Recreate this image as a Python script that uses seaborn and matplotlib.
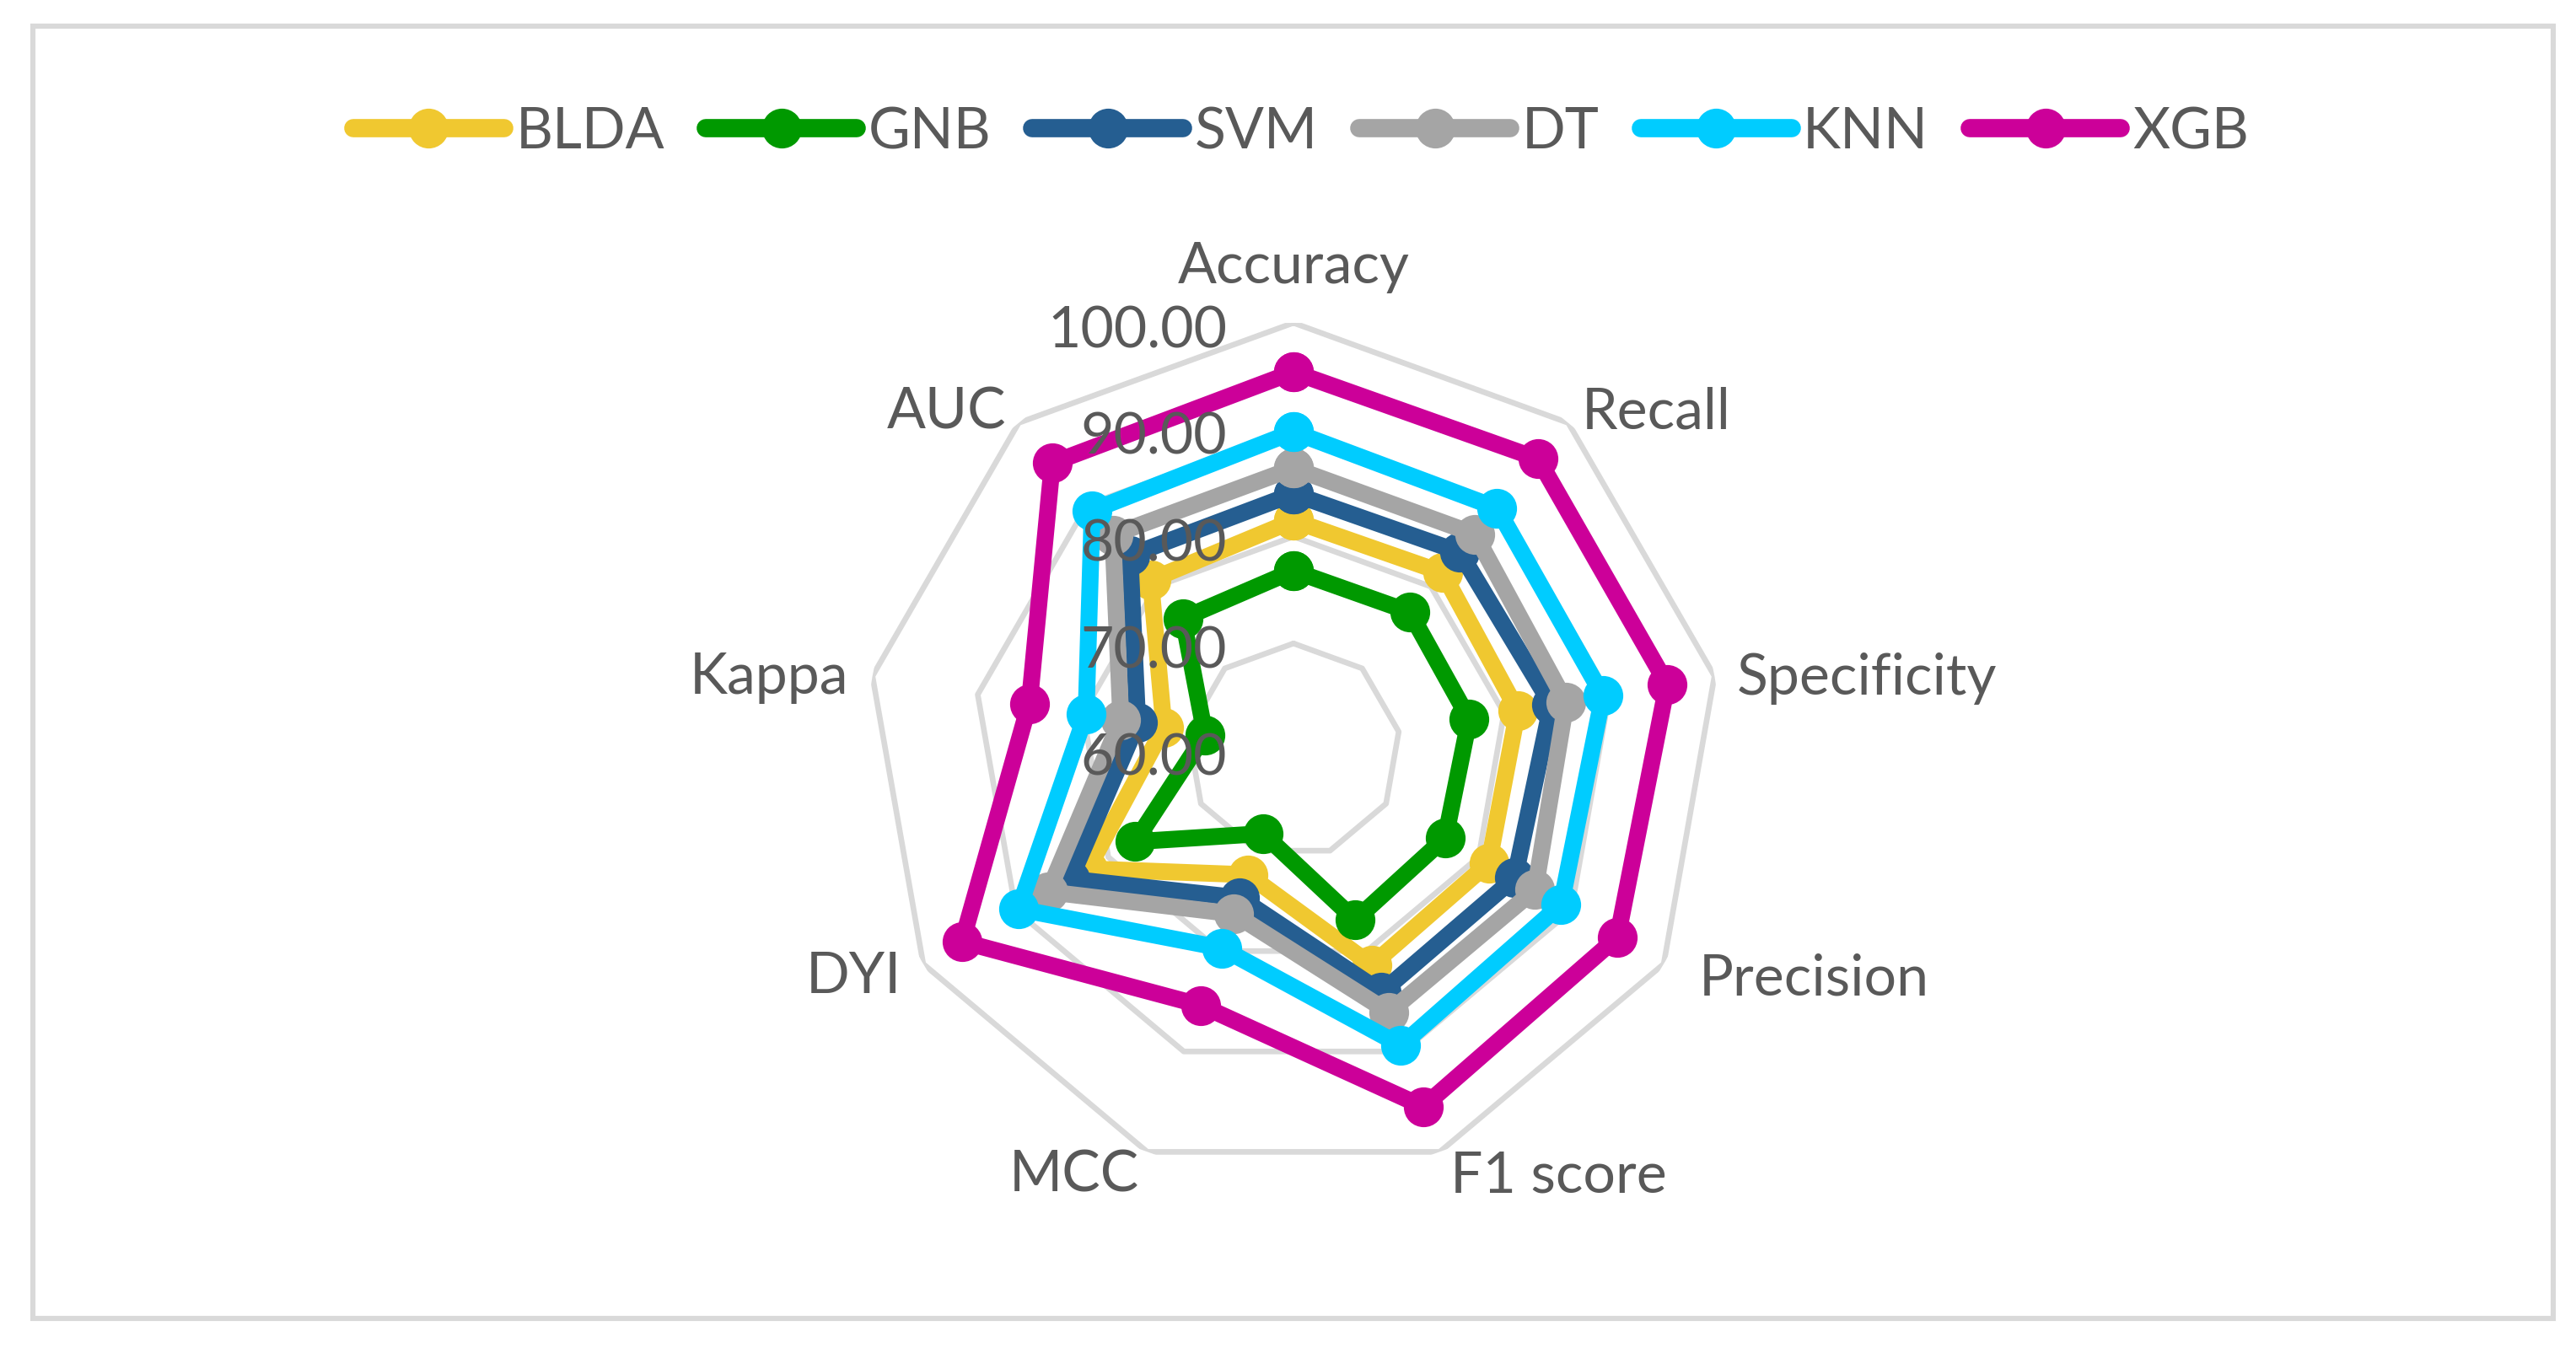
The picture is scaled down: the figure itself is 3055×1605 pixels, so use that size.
import numpy as np
import pandas as pd
import matplotlib
matplotlib.use("Agg")
import matplotlib.pyplot as plt
import seaborn as sns
from matplotlib.patches import Rectangle

# ---------------- data ----------------
metrics = ["Accuracy", "Recall", "Specificity", "Precision", "F1 score",
           "MCC", "DYI", "Kappa", "AUC"]
models = ["BLDA", "GNB", "SVM", "DT", "KNN", "XGB"]

blda = [81.5, 81.7, 81.3, 81.1, 81.4, 72.4, 82.2, 72.3, 80.8]
gnb = [76.8, 76.9, 76.7, 76.4, 76.9, 68.3, 77.1, 68.4, 76.1]
svm = [84.0, 84.2, 84.5, 83.9, 84.1, 74.7, 84.1, 74.8, 83.8]
dt = [86.4, 86.4, 85.9, 86.1, 86.1, 76.3, 86.5, 76.4, 86.3]
knn = [89.8, 89.6, 89.4, 88.9, 89.4, 79.7, 89.7, 79.7, 89.3]
xgb = [95.4, 95.6, 95.5, 95.0, 95.5, 85.4, 95.8, 85.1, 95.1]

ring_levels = [60, 70, 80, 90, 100]
tick_labels = ["60.00", "70.00", "80.00", "90.00", "100.00"]

series = [blda, gnb, svm, dt, knn, xgb]
palette = {"BLDA": "#F0C830", "GNB": "#009900", "SVM": "#255E91",
           "DT": "#A5A5A5", "KNN": "#00CCFF", "XGB": "#CC0099"}

# ---------------- style ----------------
sns.set_theme(style="white")
plt.rcParams["font.family"] = ["Lato", "DejaVu Sans"]
TEXT = "#595959"
GRID = "#D9D9D9"
FS = 24.5

DPI = 200
W, H = 3055, 1606
PX = 72.0 / DPI  # pixels -> points

fig = plt.figure(figsize=(W / DPI, H / DPI), dpi=DPI)
fig.patch.set_facecolor("white")

cx, cy, R = 1534, 891, 507
ax = fig.add_axes([(cx - R) / W, (H - cy - R) / H, 2 * R / W, 2 * R / H],
                  projection="polar")
ax.set_theta_zero_location("N")
ax.set_theta_direction(-1)
ax.set_facecolor("none")

n = len(metrics)
theta = np.linspace(0, 2 * np.pi, n, endpoint=False)
theta_closed = np.append(theta, 2 * np.pi)

rows = []
for m, vals in zip(models, series):
    for t, v in zip(theta_closed, list(vals) + [vals[0]]):
        rows.append({"model": m, "theta": t, "value": v})
df = pd.DataFrame(rows)

# polygon grid rings
for lvl in ring_levels[1:]:
    ax.plot(theta_closed, [lvl] * (n + 1), color=GRID, lw=2.4, zorder=1)

sns.lineplot(data=df, x="theta", y="value", hue="model", hue_order=models,
             palette=palette, estimator=None, sort=False, marker="o",
             markersize=17, markeredgewidth=0, linewidth=7.2, ax=ax,
             legend=True, zorder=3)

ax.set_ylim(60, 100)
ax.set_xticks([])
ax.set_yticks([])
ax.grid(False)
ax.spines["polar"].set_visible(False)
ax.set_xlabel("")
ax.set_ylabel("")

# radial tick labels
for lvl, lab in zip(ring_levels, tick_labels):
    ax.annotate(lab, xy=(0, lvl), xytext=(-79 * PX, -9 * PX),
                textcoords="offset points", ha="right", va="center",
                fontsize=FS, color=TEXT, zorder=6)

# category labels (offsets in px from vertex at r=100)
offsets = {
    "Accuracy": (0, 67, "center"),
    "Recall": (16, 13, "left"),
    "Specificity": (26, -2, "left"),
    "Precision": (42, -17, "left"),
    "F1 score": (13, -28, "left"),
    "MCC": (-10, -27, "right"),
    "DYI": (-26, -15, "right"),
    "Kappa": (-28, -1, "right"),
    "AUC": (-15, 13, "right"),
}
for t, lab in zip(theta, metrics):
    dx, dy, ha = offsets[lab]
    ax.annotate(lab, xy=(t, 100), xytext=(dx * PX, dy * PX),
                textcoords="offset points", ha=ha, va="center",
                fontsize=FS, color=TEXT, annotation_clip=False)

# legend
old = ax.get_legend()
handles = list(old.legend_handles)
labels = [t.get_text() for t in old.get_texts()]
old.remove()
for h, m in zip(handles, labels):
    h.set_color(palette[m])
    h.set_marker("o")
    h.set_markersize(17)
    h.set_markeredgewidth(0)
    h.set_markerfacecolor(palette[m])
    h.set_linewidth(7.8)
    h.set_solid_capstyle("round")
fig.legend(handles, labels, loc="center", bbox_to_anchor=(0.505, 0.902),
           ncol=6, frameon=False, fontsize=FS, handlelength=2.63,
           handletextpad=0.2, columnspacing=0.72, labelcolor=TEXT)

# outer frame
x0, y0 = 39 / W, 1 - 1565 / H
x1, y1 = 3028 / W, 1 - 32 / H
fig.patches.append(Rectangle((x0, y0), x1 - x0, y1 - y0,
                             transform=fig.transFigure, fill=False,
                             ec=GRID, lw=2.2))

fig.savefig("out.png", dpi=DPI, facecolor="white")
